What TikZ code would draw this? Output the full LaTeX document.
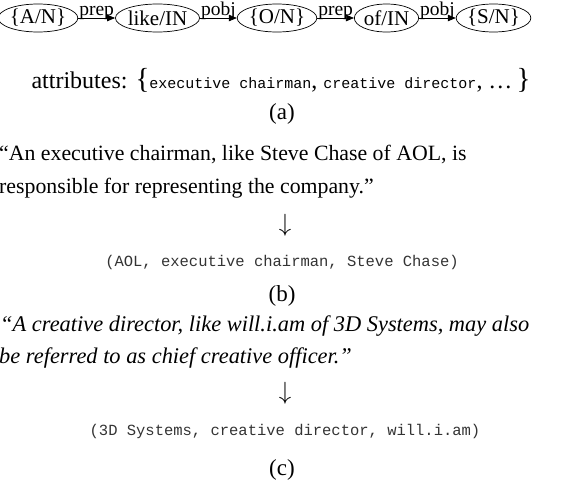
\documentclass[tikz,border=0pt]{standalone}
\usepackage{fontspec}
\setmainfont{Liberation Serif}
\setmonofont{Liberation Mono}
\usetikzlibrary{arrows.meta,shapes.geometric}
\begin{document}
\begin{tikzpicture}[x=1pt,y=-1pt,
  gnode/.style={draw, ellipse, inner sep=0pt, minimum height=28pt, line width=0.7pt,
    font=\fontsize{21}{21}\selectfont},
  edge/.style={draw, line width=0.7pt, -{Triangle[length=8pt,width=6.5pt]}},
  elabel/.style={anchor=base, inner sep=0pt, yshift=3pt, font=\fontsize{19.5}{19.5}\selectfont},
  txt/.style={inner sep=0pt, font=\fontsize{21.8}{21.8}\selectfont},
  lbl/.style={inner sep=0pt, anchor=base, font=\fontsize{23}{23}\selectfont},
  tup/.style={inner sep=0pt, anchor=base, text=black!80, font=\ttfamily\fontsize{15.5}{15.5}\selectfont},
  arr/.style={inner sep=0pt, font=\fontsize{27}{27}\selectfont}
]
\useasboundingbox (0,0) rectangle (563,488);
% graph (a)
\node[gnode, minimum width=70pt] (an) at (38,18) {\{A/N\}};
\node[gnode, minimum width=69pt] (like) at (157.5,18) {like/IN};
\node[gnode, minimum width=67pt] (on) at (277,18) {\{O/N\}};
\node[gnode, minimum width=54pt] (of) at (386.5,18) {of/IN};
\node[gnode, minimum width=62pt] (sn) at (493.5,18) {\{S/N\}};
\draw[edge] (an) -- node[elabel] {prep} (like);
\draw[edge] (like) -- node[elabel] {pobj} (on);
\draw[edge] (on) -- node[elabel] {prep} (of);
\draw[edge] (of) -- node[elabel] {pobj} (sn);
% attributes
\node[inner sep=0pt, anchor=base, font=\fontsize{24}{24}\selectfont] (attr) at (281,88) {attributes: {\fontsize{29}{29}\selectfont\{}{\ttfamily\fontsize{15}{15}\selectfont executive chairman}, {\ttfamily\fontsize{15}{15}\selectfont creative director}, \dots\,{\fontsize{29}{29}\selectfont\}}};
\node[lbl] (la) at (282,119) {(a)};
% (b)
\node[txt, anchor=base west] (b1) at (-1,160) {“An executive chairman, like Steve Chase of AOL, is};
\node[txt, anchor=base west] (b2) at (-1,193) {responsible for representing the company.”};
\node[arr] (ab) at (285,225) {$\downarrow$};
\node[tup] (tb) at (282,266) {(AOL, executive chairman, Steve Chase)};
\node[lbl] (lb) at (282,301) {(b)};
% (c)
\node[txt, anchor=base west, font=\fontsize{22.4}{22.4}\selectfont\itshape] (c1) at (0,331) {“A creative director, like will.i.am of 3D Systems, may also};
\node[txt, anchor=base west, font=\fontsize{22.4}{22.4}\selectfont\itshape] (c2) at (-1,363) {be referred to as chief creative officer.”};
\node[arr] (ac) at (285,393) {$\downarrow$};
\node[tup] (tc) at (285,435) {(3D Systems, creative director, will.i.am)};
\node[lbl] (lc) at (282,475) {(c)};
\end{tikzpicture}
\end{document}
